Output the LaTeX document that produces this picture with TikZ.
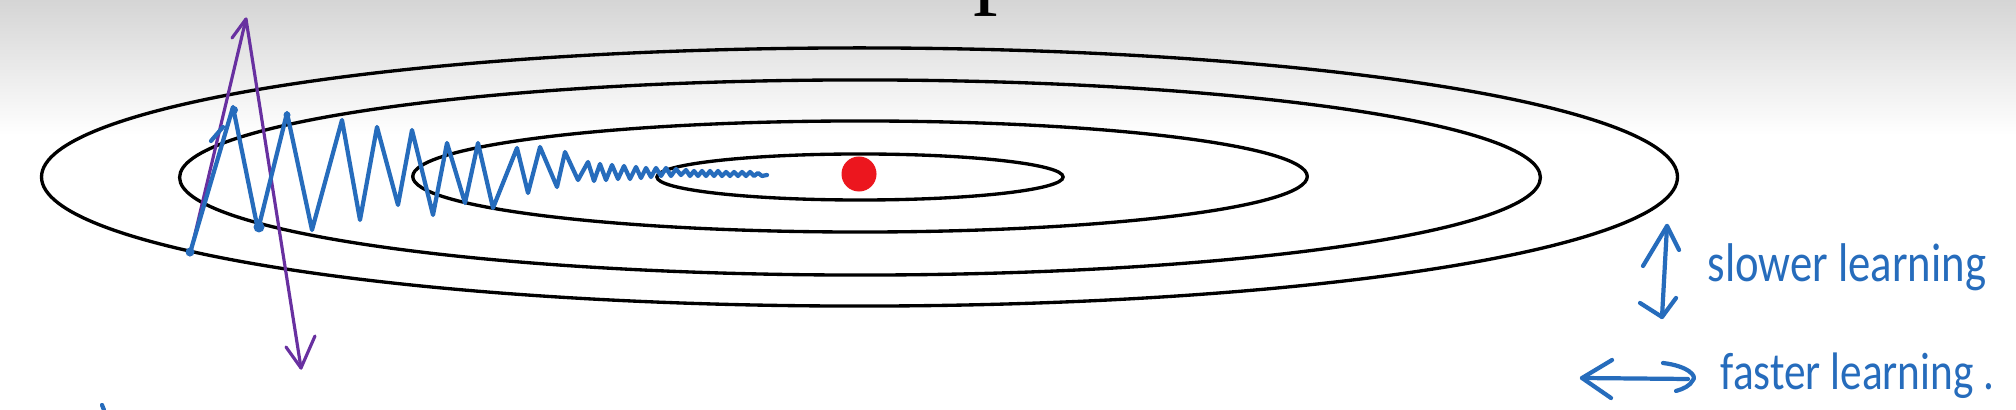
\documentclass[tikz,border=0pt]{standalone}
\usepackage{fontspec}
\newfontfamily\handfont[FakeStretch=0.82]{Carlito}
\newfontfamily\titlefont{Liberation Serif}
\definecolor{inkblue}{RGB}{38,108,188}
\definecolor{inkpurple}{RGB}{104,48,160}
\definecolor{dotred}{RGB}{236,22,30}
\begin{document}
\begin{tikzpicture}[x=0.01cm,y=-0.01cm,
  contour/.style={draw=black, line width=0.95pt},
  inkb/.style={draw=inkblue, line width=1.2pt, line cap=round, line join=round},
  inkp/.style={draw=inkpurple, line width=0.9pt, line cap=round, line join=round},
  hand/.style={text=inkblue, font=\handfont\fontsize{15.5}{17}\selectfont, inner sep=0, anchor=base west}]
\useasboundingbox (0,0) rectangle (2016,410);
\fill[white] (0,0) rectangle (2016,410);
\shade[top color=gray!33, bottom color=white] (0,0) rectangle (2016,135);
\begin{scope}
\clip (0,0) rectangle (2016,410);
\node[anchor=base west, inner sep=0, font=\titlefont\fontsize{28}{28}\selectfont] (title) at (70,-4) {Gradient descent example};
\end{scope}
% contours
\draw[contour] (859.5,177) ellipse [x radius=8.175cm, y radius=1.29cm];
\draw[contour] (860,177.5) ellipse [x radius=6.8cm, y radius=0.975cm];
\draw[contour] (860,176.5) ellipse [x radius=4.47cm, y radius=0.555cm];
\draw[contour] (860,177) ellipse [x radius=2.03cm, y radius=0.23cm];
\node[circle, fill=dotred, inner sep=0, minimum size=0.35cm] (minimum) at (859,174) {};
% purple arrow
\coordinate (pstart) at (190,255);
\coordinate (papex) at (246,19);
\coordinate (ptip) at (301,368);
\draw[inkp] (pstart) -- (papex) -- (ptip);
\draw[inkp] (232,38) -- (papex);
\draw[inkp] (286,347) -- (ptip) -- (315,336);
% blue zigzag
\draw[inkb] (190,253) -- (233,107) -- (258,230) -- (287,113) -- (312,230) -- (342,120)
  -- (360,220) -- (377,127) -- (398,205) -- (412,130) -- (433,215) -- (447,143)
  -- (465,203) -- (478,143) -- (493,208) -- (517,148) -- (528,193) -- (540,147)
  -- (557,187) -- (565,152) -- (578,180) -- (588,162) -- (594,181) -- (600,164)
  -- (606,180) -- (612,165) -- (618,179) -- (624,166) -- (630,179) -- (636,167)
  -- (641,178) -- (646,168) -- (651,177) -- (656,168) -- (661,176) -- (666,168)
  -- (671,176) -- (676,169) -- (681,175) -- (686,170) -- (690,176) -- (694,171)
  -- (698,176) -- (702,171) -- (706,176) -- (710,171) -- (714,176) -- (718,171)
  -- (722,176) -- (726,172) -- (730,176) -- (734,172) -- (738,176) -- (742,172)
  -- (746,176) -- (750,172) -- (754,176) -- (758,173) -- (762,176) -- (767,175);
\draw[inkb] (211,141) -- (223,127);
\fill[inkblue] (190,252) circle [radius=0.045cm];
\fill[inkblue] (259,227) circle [radius=0.055cm];
\fill[inkblue] (234,110) circle [radius=0.04cm];
\fill[inkblue] (287,115) circle [radius=0.035cm];
\draw[inkb] (102,405) -- (104,410);
% right annotations
\coordinate (vtop) at (1667,226);
\coordinate (vbot) at (1662,317);
\draw[inkb] (vtop) -- (vbot);
\draw[inkb] (1643,266) -- (vtop) -- (1679,250);
\draw[inkb] (1640,303) -- (vbot) -- (1676,298);
\node[hand] (slow) at (1707,282) {slower learning};
\coordinate (hleft) at (1582,378);
\coordinate (hright) at (1693,380);
\draw[inkb] (hleft) -- (1688,379);
\draw[inkb] (1612,360) -- (hleft) -- (1611,398);
\draw[inkb] (1663,363) .. controls (1688,366) and (1697,376) .. (hright) .. controls (1690,386) and (1683,389) .. (1676,391);
\node[hand, font=\handfont\fontsize{15}{17}\selectfont] (fast) at (1720,390) {faster learning .};
\end{tikzpicture}
\end{document}
